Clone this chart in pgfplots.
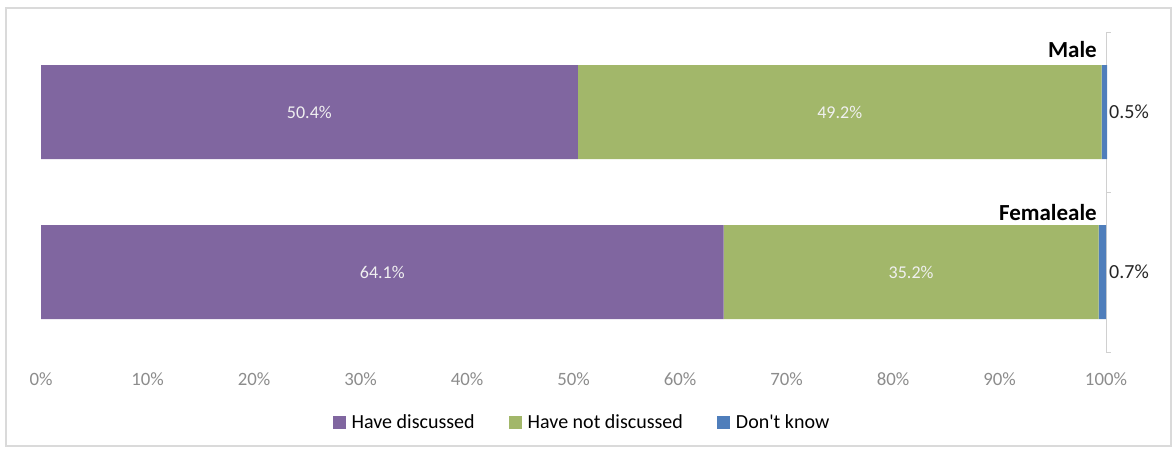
\documentclass[border=0pt]{standalone}
\usepackage{pgfplots}
\pgfplotsset{compat=1.18}
\usepackage{fontspec}
\setmainfont{Carlito}[Ligatures=TeXOff]
\definecolor{cPurple}{HTML}{8066A0}
\definecolor{cGreen}{HTML}{A2B76A}
\definecolor{cBlue}{HTML}{4F7EBB}
\definecolor{cTick}{HTML}{8C8C8C}
\definecolor{cAxis}{HTML}{D0D0D0}
\begin{document}
\begin{tikzpicture}
\path (0pt,0pt) rectangle (1175pt,-448pt);
\draw[cAxis!80, line width=1.5pt] (6pt,-8pt) rectangle (1171pt,-446pt);
\begin{axis}[
  at={(41pt,-352pt)}, anchor=south west,
  scale only axis, width=1065pt, height=320pt,
  xbar stacked, bar width=94pt,
  y dir=reverse,
  xmin=0, xmax=100, ymin=-0.5, ymax=1.5,
  axis line style={draw=none},
  ytick=\empty,
  xtick={0,10,...,100},
  xticklabel={\pgfmathprintnumber{\tick}\%},
  /pgf/number format/assume math mode=true,
  xtick style={draw=none},
  major tick length=0pt,
  xticklabel style={text=cTick, font=\fontsize{18.8}{20}\selectfont, anchor=base, yshift=-33pt},
  legend style={at={(0.508,-0.219)}, anchor=center, draw=none, fill=none,
    legend columns=3, font=\fontsize{20}{22}\selectfont,
    /tikz/every even column/.append style={column sep=32pt},
    /tikz/every odd column/.append style={column sep=4pt}},
  legend image code/.code={\fill[#1,draw=none] (0pt,-6.5pt) rectangle (13pt,6.5pt);},
  clip=false,
  after end axis/.code={
    \node[text=white!94!black, font=\fontsize{18}{20}\selectfont] at (axis cs:25.2,0) {50.4\%};
    \node[text=white!94!black, font=\fontsize{18}{20}\selectfont] at (axis cs:75.0,0) {49.2\%};
    \node[text=white!94!black, font=\fontsize{18}{20}\selectfont] at (axis cs:32.05,1) {64.1\%};
    \node[text=white!94!black, font=\fontsize{18}{20}\selectfont] at (axis cs:81.7,1) {35.2\%};
  },
]
\addplot[fill=cPurple, draw=none] coordinates {(50.4,0) (64.1,1)};
\addlegendentry{Have discussed}
\addplot[fill=cGreen, draw=none] coordinates {(49.2,0) (35.2,1)};
\addlegendentry{Have not discussed}
\addplot[fill=cBlue, draw=none] coordinates {(0.5,0) (0.7,1)};
\addlegendentry{Don't know}

\draw[cAxis, line width=1pt] (axis cs:100,-0.5) -- (axis cs:100,1.5);
\draw[cAxis, line width=1pt] (axis cs:100,-0.5) -- ++(5pt,0pt);
\draw[cAxis, line width=1pt] (axis cs:100,0.5) -- ++(5pt,0pt);
\draw[cAxis, line width=1pt] (axis cs:100,1.5) -- ++(5pt,0pt);

\node[anchor=west, inner sep=0pt, xshift=3pt, text=black!85, font=\fontsize{20}{22}\selectfont] at (axis cs:100,0) {0.5\%};
\node[anchor=west, inner sep=0pt, xshift=3pt, text=black!85, font=\fontsize{20}{22}\selectfont] at (axis cs:100,1) {0.7\%};
\node[anchor=east, inner sep=0pt, xshift=-9pt, font=\bfseries\fontsize{23}{25}\selectfont] at (axis cs:100,-0.3875) {Male};
\node[anchor=east, inner sep=0pt, xshift=-9pt, font=\bfseries\fontsize{23}{25}\selectfont] at (axis cs:100,0.631) {Femaleale};
\end{axis}
\end{tikzpicture}
\end{document}
